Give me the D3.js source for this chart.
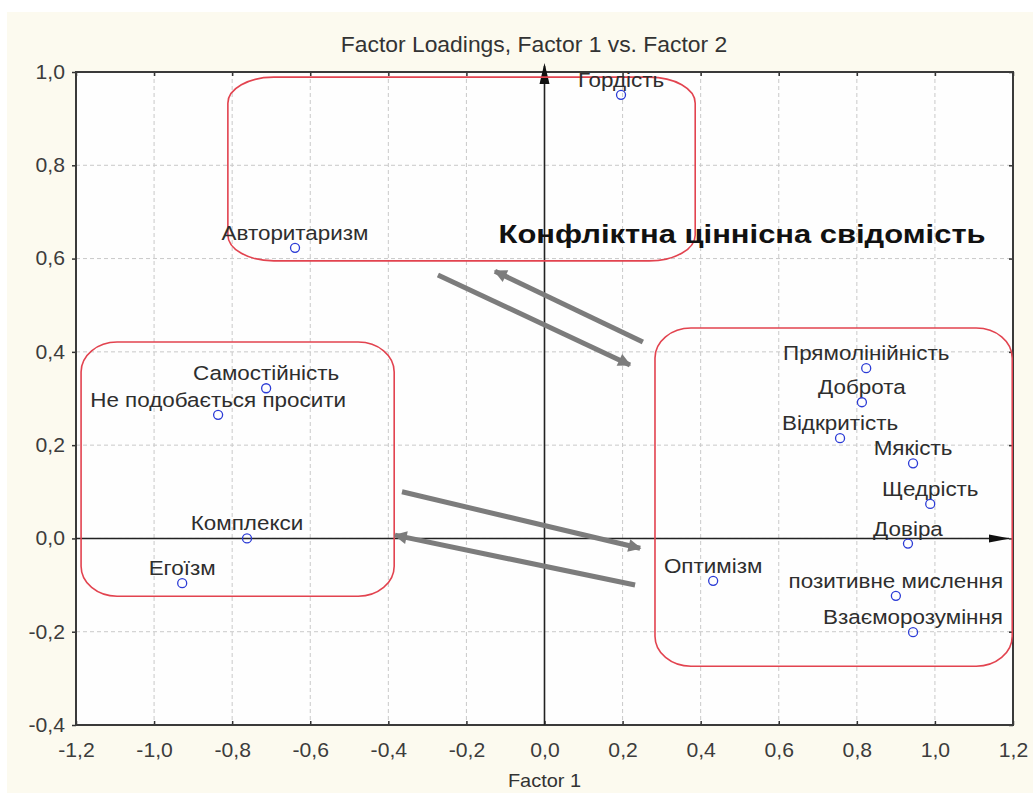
<!DOCTYPE html>
<html>
<head>
<meta charset="utf-8">
<script src="https://cdn.jsdelivr.net/npm/d3@7"></script>
<style>
  body { margin: 0; background: #fff; }
  text { font-family: "Liberation Sans", Arial, sans-serif; }
</style>
</head>
<body>
<svg width="1033" height="793"></svg>
<script>
// factor loadings (Factor 1, Factor 2)
var names = ["Гордість", "Авторитаризм", "Самостійність", "Не подобається просити", "Комплекси", "Егоїзм",
  "Прямолінійність", "Доброта", "Відкритість", "Мякість", "Щедрість", "Довіра", "Оптимізм",
  "позитивне мислення", "Взаєморозуміння"];
var factor1 = [0.196, -0.639, -0.713, -0.836, -0.762, -0.928, 0.824, 0.813, 0.757, 0.944, 0.988, 0.931, 0.432, 0.900, 0.944];
var factor2 = [0.951, 0.623, 0.322, 0.265, 0.0, -0.096, 0.365, 0.292, 0.215, 0.161, 0.074, -0.011, -0.091, -0.123, -0.201];

var xTicks = [-1.2, -1.0, -0.8, -0.6, -0.4, -0.2, 0.0, 0.2, 0.4, 0.6, 0.8, 1.0, 1.2];
var yTicks = [-0.4, -0.2, 0.0, 0.2, 0.4, 0.6, 0.8, 1.0];

// red group outlines: [x0, x1, y0, y1] in factor units
var groups = [[-0.811, 0.386, 0.595, 0.989], [-1.187, -0.385, -0.124, 0.421], [0.283, 1.198, -0.274, 0.451]];
// grey arrows: [xFrom, yFrom, xTo, yTo]
var arrows = [[-0.273, 0.565, 0.219, 0.372], [0.252, 0.421, -0.127, 0.573],
  [-0.365, 0.100, 0.245, -0.021], [0.232, -0.100, -0.383, 0.007]];

var title = "Factor Loadings, Factor 1 vs. Factor 2";
var xTitle = "Factor 1";
var note = "Конфліктна ціннісна свідомість";

var svg = d3.select("svg");
var x = d3.scaleLinear().domain([-1.2, 1.2]).range([76, 1013]);
var y = d3.scaleLinear().domain([-0.4, 1.0]).range([725, 72]);
var fmt = d3.formatLocale({decimal: ",", thousands: " ", grouping: [3], currency: ["", ""], minus: "-"}).format(".1f");

// the source picture is a little wider than tall, so text is stretched sideways
function stretch(sel, k) {
  sel.each(function() {
    var t = d3.select(this);
    var tx = +t.attr("x") || 0;
    t.attr("x", tx / k).attr("transform", "scale(" + k + ",1)");
  });
}

svg.append("rect").attr("x", 7).attr("y", 12).attr("width", 1026).attr("height", 781).attr("fill", "#fcfaef");
svg.append("rect").attr("x", x(-1.2)).attr("y", y(1.0)).attr("width", x(1.2) - x(-1.2)).attr("height", y(-0.4) - y(1.0))
  .attr("fill", "#fefefe");

var defs = svg.append("defs");
defs.append("clipPath").attr("id", "plot").append("rect")
  .attr("x", x(-1.2)).attr("y", y(1.0)).attr("width", x(1.2) - x(-1.2)).attr("height", y(-0.4) - y(1.0));
defs.append("marker").attr("id", "grey").attr("viewBox", "0 0 10 10").attr("refX", 9).attr("refY", 5)
  .attr("markerWidth", 3.4).attr("markerHeight", 2.6).attr("orient", "auto").attr("markerUnits", "strokeWidth")
  .append("path").attr("d", "M0,0L10,5L0,10Z").attr("fill", "#7c7c7c");

// grid
var grid = svg.append("g").attr("stroke", "#c9c9c9").attr("stroke-width", 1).attr("stroke-dasharray", "4,3");
grid.selectAll(".gx").data(xTicks.slice(1, -1)).enter().append("line")
  .attr("x1", d => x(d)).attr("x2", d => x(d)).attr("y1", y(1.0)).attr("y2", y(-0.4));
grid.selectAll(".gy").data(yTicks.slice(1, -1)).enter().append("line")
  .attr("y1", d => y(d)).attr("y2", d => y(d)).attr("x1", x(-1.2)).attr("x2", x(1.2));

// axes around the frame
var axStyle = function(g) {
  g.select(".domain").remove();
  g.selectAll("line").attr("stroke", "#333").attr("stroke-width", 1.5);
  g.selectAll("text").attr("fill", "#3c3c3c").style("font-size", "20px").style("font-family", "'Liberation Sans', Arial, sans-serif");
  stretch(g.selectAll("text"), 1.06);
};
svg.append("g").attr("transform", "translate(0," + y(-0.4) + ")")
  .call(d3.axisBottom(x).tickValues(xTicks).tickSize(-4).tickPadding(18).tickFormat(fmt)).call(axStyle);
svg.append("g").attr("transform", "translate(" + x(-1.2) + ",0)")
  .call(d3.axisLeft(y).tickValues(yTicks).tickSize(4).tickPadding(7).tickFormat(fmt)).call(axStyle);
svg.append("g").attr("transform", "translate(0," + y(1.0) + ")")
  .call(d3.axisTop(x).tickValues(xTicks).tickSize(-4).tickFormat("")).call(axStyle);
svg.append("g").attr("transform", "translate(" + x(1.2) + ",0)")
  .call(d3.axisRight(y).tickValues(yTicks).tickSize(-4).tickFormat("")).call(axStyle);
svg.append("rect").attr("x", x(-1.2)).attr("y", y(1.0)).attr("width", x(1.2) - x(-1.2)).attr("height", y(-0.4) - y(1.0))
  .attr("fill", "none").attr("stroke", "#3a3a3a").attr("stroke-width", 2);

// zero axes with arrows
svg.append("line").attr("x1", x(0)).attr("x2", x(0)).attr("y1", y(-0.4)).attr("y2", y(1.0) - 6)
  .attr("stroke", "#222").attr("stroke-width", 1.6);
svg.append("path").attr("d", d3.line()([[x(0) - 5, y(1.0) + 12], [x(0), y(1.0) - 9], [x(0) + 5, y(1.0) + 12]]) + "Z")
  .attr("fill", "#111");
svg.append("line").attr("x1", x(-1.2)).attr("x2", x(1.2) - 4).attr("y1", y(0)).attr("y2", y(0))
  .attr("stroke", "#222").attr("stroke-width", 1.6);
svg.append("path").attr("d", d3.line()([[x(1.2) - 24, y(0) - 4], [x(1.2) - 3, y(0)], [x(1.2) - 24, y(0) + 4]]) + "Z")
  .attr("fill", "#111");

// group outlines
svg.append("g").selectAll("rect").data(groups).enter().append("rect")
  .attr("x", d => x(d[0])).attr("y", d => y(d[3]))
  .attr("width", d => x(d[1]) - x(d[0])).attr("height", d => y(d[2]) - y(d[3]))
  .attr("rx", (d, i) => i == 0 ? 46 : 36).attr("ry", (d, i) => i == 0 ? 26 : 30)
  .attr("fill", "none").attr("stroke", "#e2434f").attr("stroke-width", 1.6);

// arrows
svg.append("g").selectAll("line").data(arrows).enter().append("line")
  .attr("x1", d => x(d[0])).attr("y1", d => y(d[1])).attr("x2", d => x(d[2])).attr("y2", d => y(d[3]))
  .attr("stroke", "#7c7c7c").attr("stroke-width", 5).attr("marker-end", "url(#grey)");

// points and labels
var pts = names.map(function(n, i) { return {name: n, f1: factor1[i], f2: factor2[i]}; });
var lab = svg.append("g").attr("clip-path", "url(#plot)");
lab.selectAll("text").data(pts).enter().append("text")
  .attr("x", d => x(d.f1)).attr("y", d => y(d.f2) - 8)
  .attr("text-anchor", "middle").attr("fill", "#2e2e2e").style("font-size", "19.5px")
  .text(d => d.name)
  .call(stretch, 1.15);
svg.append("g").selectAll("circle").data(pts).enter().append("circle")
  .attr("cx", d => x(d.f1)).attr("cy", d => y(d.f2)).attr("r", 4.5)
  .attr("fill", "none").attr("stroke", "#2b3bd6").attr("stroke-width", 1.3);

// titles
svg.append("text").attr("x", 534).attr("y", 52).attr("text-anchor", "middle")
  .attr("fill", "#333").style("font-size", "22px").text(title).call(stretch, 1.04);
svg.append("text").attr("x", x(0)).attr("y", 787).attr("text-anchor", "middle")
  .attr("fill", "#333").style("font-size", "19px").text(xTitle).call(stretch, 1.05);
svg.append("text").attr("x", x(0.506)).attr("y", y(0.633)).attr("text-anchor", "middle")
  .attr("fill", "#111").style("font-size", "26px").style("font-weight", "bold").text(note).call(stretch, 1.19);
</script>
</body>
</html>
